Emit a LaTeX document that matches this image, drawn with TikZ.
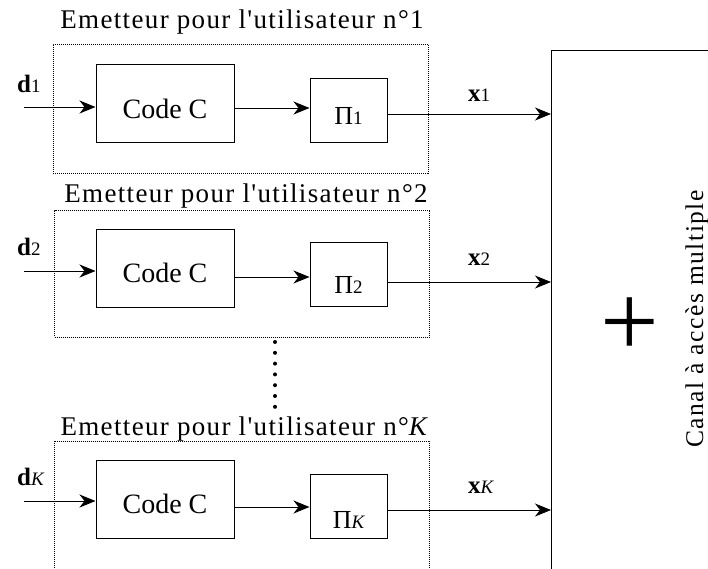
\documentclass[tikz,border=0pt]{standalone}
\usepackage{fontspec}
\setmainfont{Liberation Serif}
\newfontfamily\titlefont[LetterSpace=5]{Liberation Serif}
\newfontfamily\chanfont[LetterSpace=6]{Liberation Serif}
\usetikzlibrary{arrows.meta}
\begin{document}
\begin{tikzpicture}[x=1pt,y=-1pt,
  blk/.style={draw, line width=1pt, inner sep=0pt, anchor=center},
  codebox/.style={blk, minimum width=138pt, minimum height=78pt, font=\fontsize{28}{30}\selectfont},
  pibox/.style={blk, minimum width=77pt, minimum height=64pt, font=\fontsize{26}{28}\selectfont},
  emit/.style={draw, line width=0.8pt, dash pattern=on 1pt off 1pt, inner sep=0pt, minimum width=375pt},
  conn/.style={line width=1pt, -{Stealth[length=16pt,width=13pt,inset=5pt]}},
  title/.style={anchor=base, inner sep=0pt, font=\titlefont\fontsize{27}{30}\selectfont},
  lab/.style={anchor=base west, inner sep=0pt, font=\fontsize{25}{28}\selectfont}
]
\clip (0,0) rectangle (708,568);
\fill[white] (0,0) rectangle (708,568);

% channel
\node[draw, line width=1pt, anchor=north west, minimum width=300pt, minimum height=700pt, inner sep=0pt] (ch) at (551,50) {};
\node[inner sep=0pt, font=\fontsize{104}{104}\selectfont] (plus) at (630,327) {+};
\node[anchor=base, rotate=90, inner sep=0pt, font=\chanfont\fontsize{25.5}{28}\selectfont] (chlab) at (703,319) {Canal à accès multiple};

% user 1
\node[emit, minimum height=129pt] (e1) at (240.5,108.5) {};
\node[title] (t1) at (242,28) {Emetteur pour l'utilisateur n°1};
\node[codebox, text height=30pt, text depth=0pt] (c1) at (165,103) {Code C};
\node[pibox, text height=28pt, text depth=0pt] (p1) at (348.5,110) {Π{\fontsize{19}{20}\selectfont 1}};
\node[lab] (d1) at (17,92) {\textbf{d}{\fontsize{19}{20}\selectfont 1}};
\node[lab] (x1) at (468,101) {\textbf{x}{\fontsize{19}{20}\selectfont 1}};
\coordinate (i1) at (24,107);
\draw[conn] (i1) -- (i1 -| c1.west);
\coordinate (m1) at ([yshift=-5pt]c1.east);
\draw[conn] (m1) -- (m1 -| p1.west);
\coordinate (o1) at ([yshift=-4pt]p1.east);
\draw[conn] (o1) -- (o1 -| ch.west);

% user 2
\node[emit, minimum height=127pt] (e2) at (242,273.5) {};
\node[title] (t2) at (246,202) {Emetteur pour l'utilisateur n°2};
\node[codebox, text height=27pt, text depth=0pt] (c2) at (165,268.5) {Code C};
\node[pibox, text height=37pt, text depth=0pt] (p2) at (348.5,274.5) {Π{\fontsize{19}{20}\selectfont 2}};
\node[lab] (d2) at (17,255) {\textbf{d}{\fontsize{19}{20}\selectfont 2}};
\node[lab] (x2) at (468,265) {\textbf{x}{\fontsize{19}{20}\selectfont 2}};
\coordinate (i2) at (24,271);
\draw[conn] (i2) -- (i2 -| c2.west);
\coordinate (m2) at ([yshift=-8.5pt]c2.east);
\draw[conn] (m2) -- (m2 -| p2.west);
\coordinate (o2) at ([yshift=-7.5pt]p2.east);
\draw[conn] (o2) -- (o2 -| ch.west);

% dots
\foreach \yy in {342,352.8,363.6,374.4,385.2,396,406.8}
  \fill (275,\yy) circle (2pt);

% user K
\node[emit, minimum height=200pt] (eK) at (242,541) {};
\node[title] (tK) at (245,435) {Emetteur pour l'utilisateur n°\textit{K}};
\node[codebox, text height=27pt, text depth=0pt] (cK) at (165,499.5) {Code C};
\node[pibox, text height=44pt, text depth=0pt] (pK) at (348.5,506) {Π{\fontsize{19}{20}\selectfont\itshape K}};
\node[lab] (dK) at (17,485) {\textbf{d}{\fontsize{19}{20}\selectfont\itshape K}};
\node[lab] (xK) at (468,493) {\textbf{x}{\fontsize{19}{20}\selectfont\itshape K}};
\coordinate (iK) at (24,501);
\draw[conn] (iK) -- (iK -| cK.west);
\coordinate (mK) at ([yshift=-7.5pt]cK.east);
\draw[conn] (mK) -- (mK -| pK.west);
\coordinate (oK) at ([yshift=-4pt]pK.east);
\draw[conn] (oK) -- (oK -| ch.west);
\end{tikzpicture}
\end{document}
